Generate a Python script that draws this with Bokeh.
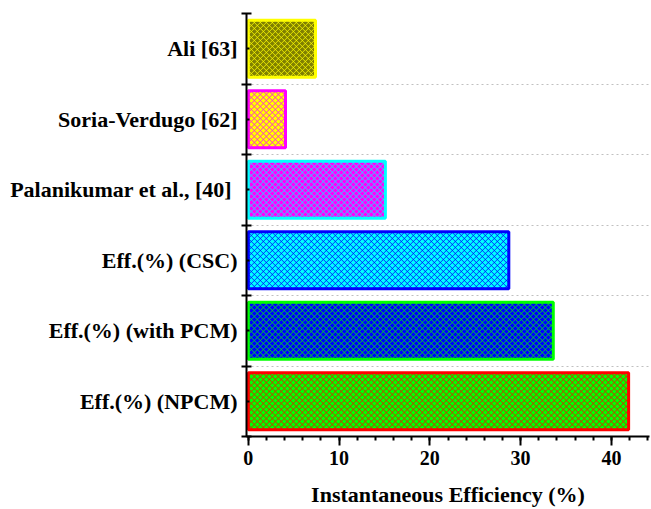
import math
from bokeh.plotting import figure
from bokeh.models import Range1d, FixedTicker
from bokeh.embed import file_html
from bokeh.resources import INLINE

# Data (bottom to top)
categories = ["Eff.(%) (NPCM)", "Eff.(%) (with PCM)", "Eff.(%) (CSC)",
              "Palanikumar et al.,  [40]", "Soria-Verdugo [62]", "Ali [63]"]
efficiency = [41.9, 33.6, 28.7, 15.1, 4.1, 7.4]
fill_colors = ["#00ff00", "#0000ff", "#00ffff", "#ff00ff", "#ffff00", "#808000"]
hatch_colors = ["#ff0000", "#00ff00", "#0000ff", "#00ffff", "#ff00ff", "#ffff00"]
x_ticks = [0, 10, 20, 30, 40]

W, H = 651, 509
ML, MR, MT, MB = 246, 2, 13, 73
X0, X1 = -0.2, 44.2
BAR_H = 0.81
STEP = 6.0  # hatch spacing in screen pixels

ncat = len(categories)
ypos = [i + 0.5 for i in range(ncat)]
kx = (W - ML - MR) / (X1 - X0)
ky = (H - MT - MB) / ncat


def crosshatch(xl, xr, yb, yt):
    """45-degree cross-hatch segments (in data units) clipped to a rectangle."""
    px0, px1, py0, py1 = xl * kx, xr * kx, yb * ky, yt * ky
    xs, ys = [], []
    c = math.floor((px0 - py1) / STEP) * STEP
    while c <= px1 - py0:
        a, b = max(px0, py0 + c), min(px1, py1 + c)
        if b > a:
            xs.append([a / kx, b / kx])
            ys.append([(a - c) / ky, (b - c) / ky])
        c += STEP
    c = math.floor((px0 + py0) / STEP) * STEP
    while c <= px1 + py1:
        a, b = max(px0, c - py1), min(px1, c - py0)
        if b > a:
            xs.append([a / kx, b / kx])
            ys.append([(c - a) / ky, (c - b) / ky])
        c += STEP
    return xs, ys


p = figure(width=W, height=H, output_backend="svg", toolbar_location=None,
           x_range=Range1d(X0, X1), y_range=Range1d(0, ncat),
           min_border_left=ML, min_border_right=MR, min_border_top=MT, min_border_bottom=MB)
p.outline_line_color = None

# bar fills
p.hbar(y=ypos, left=0, right=efficiency, height=BAR_H, fill_color=fill_colors, line_color=None)
# cross-hatching
for y, v, hc in zip(ypos, efficiency, hatch_colors):
    hx, hy = crosshatch(0, v, y - BAR_H / 2, y + BAR_H / 2)
    p.multi_line(hx, hy, line_color=hc, line_width=0.8)
# bar outlines
p.hbar(y=ypos, left=0, right=efficiency, height=BAR_H, fill_color=None,
       line_color=hatch_colors, line_width=3)

font = "Liberation Serif"

# x axis
p.xaxis.ticker = FixedTicker(ticks=x_ticks, minor_ticks=list(range(0, 45, 2)))
p.xaxis.axis_label = "Instantaneous Efficiency (%)"
p.xaxis.axis_label_text_font = font
p.xaxis.axis_label_text_font_style = "bold"
p.xaxis.axis_label_text_font_size = "22px"
p.xaxis.axis_label_text_color = "black"
p.xaxis.axis_label_standoff = 14
p.xaxis.major_label_text_font = font
p.xaxis.major_label_text_font_style = "bold"
p.xaxis.major_label_text_font_size = "20px"
p.xaxis.major_label_text_color = "black"
p.xaxis.major_label_standoff = 5
p.xaxis.axis_line_width = 2
p.xaxis.major_tick_line_width = 2
p.xaxis.minor_tick_line_width = 2
p.xaxis.major_tick_out = 9
p.xaxis.major_tick_in = 0
p.xaxis.minor_tick_out = 4
p.xaxis.minor_tick_in = 0

# y axis
p.yaxis.ticker = FixedTicker(ticks=ypos, minor_ticks=list(range(0, ncat + 1)))
p.yaxis.major_label_overrides = {y: c for y, c in zip(ypos, categories)}
p.yaxis.major_label_text_font = font
p.yaxis.major_label_text_font_style = "bold"
p.yaxis.major_label_text_font_size = "22px"
p.yaxis.major_label_text_color = "black"
p.yaxis.major_label_standoff = 4
p.yaxis.axis_line_width = 2
p.yaxis.major_tick_line_width = 2
p.yaxis.minor_tick_line_width = 2
p.yaxis.major_tick_in = 3
p.yaxis.major_tick_out = 0
p.yaxis.minor_tick_in = 5
p.yaxis.minor_tick_out = 5

p.xgrid.visible = False
p.ygrid.ticker = FixedTicker(ticks=list(range(1, ncat)))
p.ygrid.grid_line_color = "#c0c0c0"
p.ygrid.grid_line_dash = "2 3"
p.ygrid.grid_line_width = 1

open("out.html", "w").write(file_html(p, INLINE))
